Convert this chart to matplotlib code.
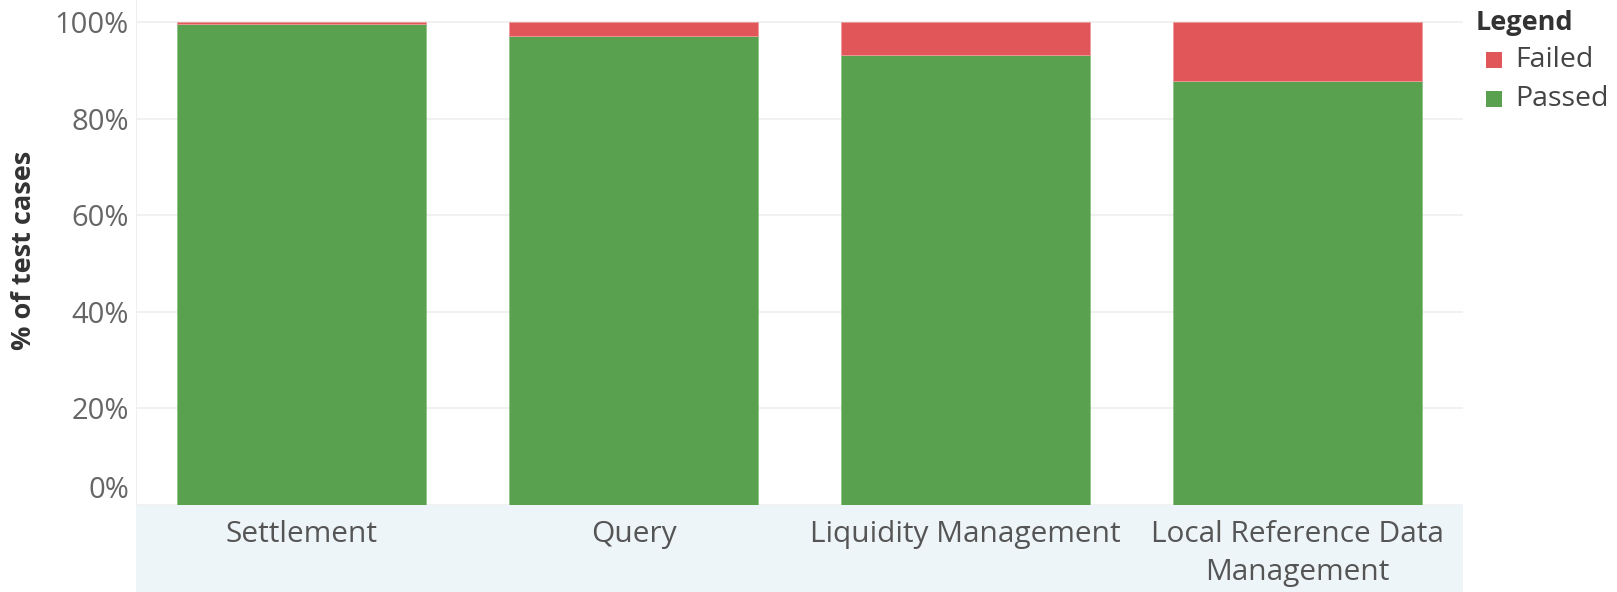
import matplotlib
matplotlib.use("Agg")
import matplotlib.pyplot as plt
from matplotlib.patches import Rectangle

categories = ["Settlement", "Query", "Liquidity Management", "Local Reference Data\nManagement"]
passed = [99.5, 97.2, 93.2, 87.8]
failed = [0.5, 2.8, 6.8, 12.2]
yticks = [0, 20, 40, 60, 80, 100]
ytick_labels = ["0%", "20%", "40%", "60%", "80%", "100%"]
legend_labels = ["Failed", "Passed"]

GREEN = "#59A14F"
RED = "#E15759"
W, H = 1617, 592
plt.rcParams['font.family'] = ['Open Sans', 'DejaVu Sans']
fig = plt.figure(figsize=(W / 100, H / 100), dpi=100)

left, right, bottom_px = 136, 1463, 505
# band behind category labels
band = fig.add_axes([left / W, 0, (right - left) / W, 1 - bottom_px / H], zorder=0)
band.set_facecolor("#EEF5F9")
band.set_xticks([]); band.set_yticks([])
for s in band.spines.values():
    s.set_visible(False)

ax = fig.add_axes([left / W, 1 - bottom_px / H, (right - left) / W, bottom_px / H], zorder=1)

x = list(range(len(categories)))
ax.bar(x, passed, width=0.75, color=GREEN, edgecolor="#8cc484", linewidth=0.6, zorder=3)
ax.bar(x, failed, bottom=passed, width=0.75, color=RED, edgecolor="#ee9a9b", linewidth=0.6, zorder=3)

ax.set_xlim(-0.5, len(categories) - 0.5)
ax.set_ylim(0, 100 * bottom_px / (bottom_px - 22))
ax.set_yticks(yticks)
ax.set_yticklabels(ytick_labels)
ax.set_xticks(x)
ax.set_xticklabels(categories, linespacing=1.4)
ax.tick_params(axis="y", length=0, pad=5, labelsize=21, labelcolor="#666666")
ax.tick_params(axis="x", length=0, pad=11, labelsize=21.5, labelcolor="#555555")
ylabels = ax.get_yticklabels()
ylabels[0].set_verticalalignment("bottom")
ax.grid(axis="y", color="#efefef", linewidth=1.2, zorder=0)
for s in ["top", "right", "bottom"]:
    ax.spines[s].set_visible(False)
ax.spines["left"].set_color("#efefef")
ax.set_facecolor("none")

fig.text(24 / W, 1 - 250 / H, "% of test cases", rotation=90, ha="center", va="center",
         fontsize=19.5, fontweight="bold", color="#333333")

# legend
fig.text(1476 / W, 1 - 23 / H, "Legend", ha="left", va="center",
         fontsize=19.5, fontweight="bold", color="#333333")
for i, (lab, col) in enumerate(zip(legend_labels, [RED, GREEN])):
    yc = 60 + i * 39
    fig.patches.append(Rectangle((1486 / W, 1 - (yc + 8) / H), 16 / W, 16 / H,
                                 transform=fig.transFigure, facecolor=col,
                                 edgecolor="none", zorder=5))
    fig.text(1515 / W, 1 - yc / H, lab, ha="left", va="center",
             fontsize=20.5, color="#444444")

fig.savefig("out.png", dpi=100)
